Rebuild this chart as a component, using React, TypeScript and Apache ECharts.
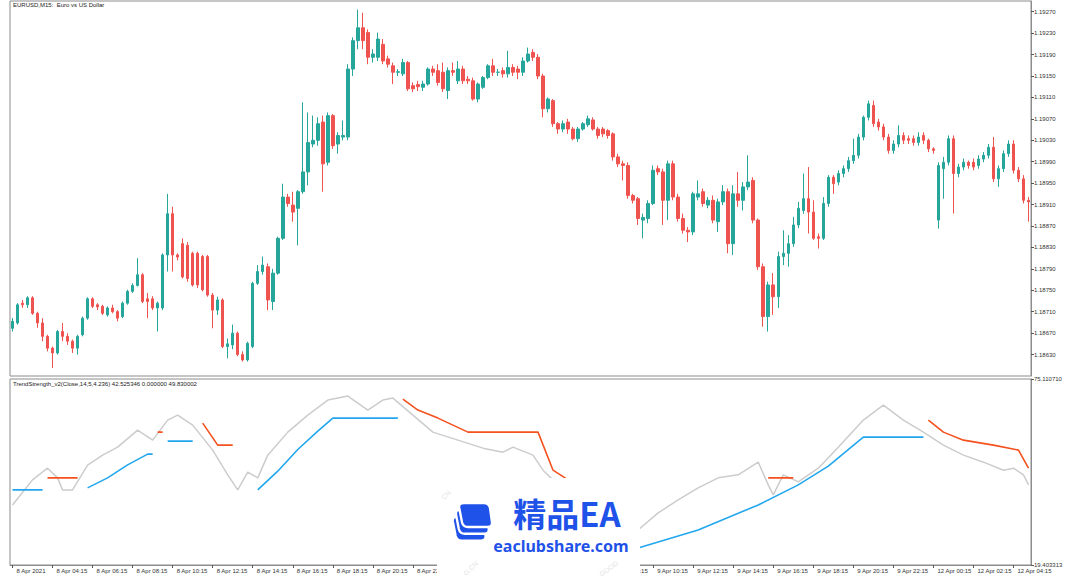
import React, { useEffect, useRef } from "react";
import * as echarts from "echarts";

// [open, close, low, high] per M15 bar
const candles: number[][] = [
  [1.18679, 1.18692, 1.18673, 1.18698],
  [1.18689, 1.18723, 1.18686, 1.18726],
  [1.18726, 1.18723, 1.18717, 1.18732],
  [1.18723, 1.18736, 1.18717, 1.18739],
  [1.18736, 1.18707, 1.18704, 1.18739],
  [1.18707, 1.18689, 1.1868, 1.1871],
  [1.18689, 1.18664, 1.18655, 1.18698],
  [1.18664, 1.18642, 1.18636, 1.18667],
  [1.18642, 1.18633, 1.18605, 1.18645],
  [1.18633, 1.18673, 1.1863, 1.18676],
  [1.18673, 1.18664, 1.18655, 1.18689],
  [1.18664, 1.18655, 1.18648, 1.1867],
  [1.18655, 1.18642, 1.18633, 1.18658],
  [1.18642, 1.18664, 1.1863, 1.18667],
  [1.18667, 1.18698, 1.18664, 1.18701],
  [1.18698, 1.18734, 1.18695, 1.18737],
  [1.18734, 1.1872, 1.18717, 1.18737],
  [1.18723, 1.18719, 1.18713, 1.18726],
  [1.1872, 1.18707, 1.18704, 1.18723],
  [1.18704, 1.18717, 1.18701, 1.1872],
  [1.18717, 1.1871, 1.18707, 1.18723],
  [1.1871, 1.18698, 1.18692, 1.18713],
  [1.18701, 1.18726, 1.18698, 1.18729],
  [1.18726, 1.18748, 1.18723, 1.18751],
  [1.18748, 1.18759, 1.18745, 1.18763],
  [1.18759, 1.18779, 1.18757, 1.1881],
  [1.18779, 1.18729, 1.18726, 1.18782],
  [1.18734, 1.18729, 1.18698, 1.18745],
  [1.18734, 1.18717, 1.18713, 1.18739],
  [1.18717, 1.18726, 1.18673, 1.18729],
  [1.18717, 1.18816, 1.18713, 1.18819],
  [1.18816, 1.18893, 1.18785, 1.1893],
  [1.18893, 1.18816, 1.18785, 1.18906],
  [1.18816, 1.18812, 1.18806, 1.18819],
  [1.18837, 1.18775, 1.18772, 1.18847],
  [1.18834, 1.18772, 1.18766, 1.1884],
  [1.18819, 1.1876, 1.18757, 1.18822],
  [1.18819, 1.1876, 1.18754, 1.18822],
  [1.18813, 1.18751, 1.18748, 1.18816],
  [1.18813, 1.18741, 1.18738, 1.18816],
  [1.18741, 1.18713, 1.18679, 1.18745],
  [1.18713, 1.18732, 1.18704, 1.18738],
  [1.18732, 1.18645, 1.18642, 1.18735],
  [1.18645, 1.1865, 1.18623, 1.1866],
  [1.18648, 1.1867, 1.1864, 1.18686],
  [1.1867, 1.1863, 1.18627, 1.18673],
  [1.1863, 1.1862, 1.18617, 1.18636],
  [1.1862, 1.18651, 1.18617, 1.18654],
  [1.18645, 1.18763, 1.18642, 1.18766],
  [1.18763, 1.18785, 1.1876, 1.18797],
  [1.18785, 1.18797, 1.18779, 1.18813],
  [1.18794, 1.18732, 1.18713, 1.188],
  [1.18729, 1.18782, 1.18713, 1.1879],
  [1.18782, 1.18847, 1.18779, 1.1885],
  [1.18847, 1.18924, 1.18844, 1.18949],
  [1.18924, 1.18912, 1.18906, 1.1893],
  [1.18909, 1.18896, 1.18878, 1.18934],
  [1.18903, 1.18934, 1.18834, 1.18937],
  [1.18934, 1.18971, 1.1893, 1.19101],
  [1.18971, 1.19026, 1.18946, 1.19082],
  [1.19023, 1.1903, 1.19017, 1.19076],
  [1.1903, 1.19061, 1.1902, 1.19073],
  [1.19064, 1.18986, 1.18934, 1.19076],
  [1.18989, 1.19076, 1.18983, 1.19082],
  [1.19076, 1.1902, 1.19014, 1.19079],
  [1.19023, 1.19039, 1.19005, 1.19045],
  [1.19036, 1.19039, 1.1903, 1.19067],
  [1.19036, 1.19163, 1.1903, 1.19172],
  [1.19163, 1.19216, 1.1915, 1.19222],
  [1.19216, 1.1924, 1.192, 1.19274],
  [1.1924, 1.19216, 1.192, 1.19268],
  [1.19231, 1.19185, 1.19172, 1.19237],
  [1.19185, 1.19191, 1.19175, 1.192],
  [1.19185, 1.19219, 1.19178, 1.19231],
  [1.19209, 1.19178, 1.19172, 1.19219],
  [1.19182, 1.19172, 1.19166, 1.19188],
  [1.19169, 1.19157, 1.19135, 1.19175],
  [1.19157, 1.19158, 1.1915, 1.19163],
  [1.19154, 1.19175, 1.1915, 1.19182],
  [1.19175, 1.19126, 1.19122, 1.19178],
  [1.19132, 1.19126, 1.1912, 1.19138],
  [1.19134, 1.1913, 1.19122, 1.19141],
  [1.19129, 1.19135, 1.19122, 1.19141],
  [1.19135, 1.19163, 1.19132, 1.19166],
  [1.19163, 1.19157, 1.1915, 1.19169],
  [1.1916, 1.19138, 1.19132, 1.19172],
  [1.19157, 1.19126, 1.1912, 1.19175],
  [1.19123, 1.1916, 1.19107, 1.19166],
  [1.1916, 1.19157, 1.1915, 1.19175],
  [1.19141, 1.19163, 1.19135, 1.19178],
  [1.19163, 1.19141, 1.19135, 1.19169],
  [1.19144, 1.19141, 1.19135, 1.1915],
  [1.19141, 1.19107, 1.19104, 1.19147],
  [1.19107, 1.19135, 1.19101, 1.19138],
  [1.19129, 1.19147, 1.19126, 1.1915],
  [1.19147, 1.19169, 1.19144, 1.19172],
  [1.19169, 1.19157, 1.1915, 1.19182],
  [1.19157, 1.19157, 1.1915, 1.19163],
  [1.1916, 1.19154, 1.19147, 1.19166],
  [1.19154, 1.19166, 1.19147, 1.19197],
  [1.19166, 1.19157, 1.1915, 1.19172],
  [1.19163, 1.19157, 1.19144, 1.19169],
  [1.19157, 1.19178, 1.1915, 1.19185],
  [1.19178, 1.19191, 1.19175, 1.19203],
  [1.19194, 1.19185, 1.19178, 1.192],
  [1.19185, 1.1915, 1.19144, 1.19191],
  [1.1915, 1.19089, 1.19073, 1.19154],
  [1.19089, 1.19107, 1.19082, 1.1911],
  [1.19104, 1.19061, 1.19055, 1.19107],
  [1.19061, 1.19051, 1.19042, 1.19064],
  [1.19051, 1.19061, 1.19045, 1.19067],
  [1.19064, 1.19051, 1.19042, 1.1907],
  [1.19051, 1.19033, 1.1903, 1.19055],
  [1.19033, 1.19051, 1.19027, 1.19055],
  [1.19051, 1.19061, 1.19048, 1.19064],
  [1.19059, 1.1907, 1.19055, 1.19076],
  [1.19068, 1.19051, 1.19048, 1.19073],
  [1.19051, 1.19039, 1.19033, 1.19055],
  [1.19051, 1.19042, 1.19036, 1.19055],
  [1.19048, 1.19039, 1.19033, 1.19051],
  [1.19042, 1.18999, 1.18992, 1.19045],
  [1.18999, 1.18986, 1.1898, 1.19005],
  [1.18986, 1.18983, 1.18955, 1.18992],
  [1.18983, 1.18927, 1.18921, 1.18989],
  [1.18927, 1.18918, 1.18912, 1.1893],
  [1.18921, 1.18884, 1.18872, 1.18924],
  [1.18881, 1.18886, 1.18847, 1.18893],
  [1.18884, 1.18912, 1.18875, 1.18918],
  [1.18912, 1.18974, 1.18909, 1.18983],
  [1.18977, 1.18971, 1.18965, 1.18983],
  [1.18971, 1.18918, 1.18872, 1.18977],
  [1.18918, 1.18986, 1.18881, 1.18992],
  [1.18986, 1.18924, 1.18918, 1.18992],
  [1.18924, 1.18884, 1.18878, 1.1893],
  [1.18884, 1.18862, 1.18856, 1.18893],
  [1.18862, 1.18859, 1.1884, 1.18868],
  [1.18859, 1.1893, 1.18853, 1.18934],
  [1.18924, 1.1893, 1.18918, 1.18955],
  [1.18934, 1.18912, 1.18906, 1.1894],
  [1.18909, 1.18918, 1.18903, 1.18924],
  [1.18918, 1.18881, 1.18875, 1.18927],
  [1.18878, 1.18915, 1.18859, 1.18921],
  [1.18915, 1.18934, 1.18909, 1.18946],
  [1.18934, 1.18837, 1.18819, 1.1894],
  [1.18837, 1.1893, 1.18816, 1.18946],
  [1.1893, 1.18918, 1.18906, 1.18971],
  [1.18918, 1.18943, 1.18899, 1.18952],
  [1.18943, 1.18952, 1.18937, 1.19002],
  [1.18955, 1.18881, 1.18875, 1.18961],
  [1.18881, 1.18794, 1.18788, 1.18884],
  [1.18794, 1.18701, 1.18682, 1.188],
  [1.18701, 1.1876, 1.18673, 1.18766],
  [1.1876, 1.18738, 1.18704, 1.18782],
  [1.18738, 1.18813, 1.18717, 1.18822],
  [1.18813, 1.18819, 1.18797, 1.18862],
  [1.18819, 1.18837, 1.18794, 1.18853],
  [1.18837, 1.18872, 1.18831, 1.18887],
  [1.18872, 1.18903, 1.18866, 1.18915],
  [1.18899, 1.18921, 1.18893, 1.18968],
  [1.18921, 1.18896, 1.18856, 1.1898],
  [1.18896, 1.18847, 1.18844, 1.18918],
  [1.1885, 1.18847, 1.18828, 1.18856],
  [1.18847, 1.18912, 1.18844, 1.18924],
  [1.18912, 1.18961, 1.18906, 1.18965],
  [1.18961, 1.18949, 1.1893, 1.18965],
  [1.18952, 1.18968, 1.18946, 1.18974],
  [1.18968, 1.18977, 1.18961, 1.18983],
  [1.18977, 1.18992, 1.18971, 1.18999],
  [1.18992, 1.19002, 1.18986, 1.19033],
  [1.19002, 1.19036, 1.18996, 1.19042],
  [1.19036, 1.19073, 1.1903, 1.19076],
  [1.19073, 1.19098, 1.19067, 1.19104],
  [1.19095, 1.19061, 1.19055, 1.19104],
  [1.19064, 1.19055, 1.19048, 1.1907],
  [1.19055, 1.19036, 1.1903, 1.19061],
  [1.19036, 1.19011, 1.19005, 1.19042],
  [1.19011, 1.19023, 1.19005, 1.1903],
  [1.19023, 1.19039, 1.19017, 1.19058],
  [1.19039, 1.1903, 1.19023, 1.19045],
  [1.19033, 1.1903, 1.19023, 1.19039],
  [1.19033, 1.19026, 1.1902, 1.19039],
  [1.19026, 1.19036, 1.1902, 1.19045],
  [1.19039, 1.1903, 1.19023, 1.19045],
  [1.1903, 1.19014, 1.19008, 1.19033],
  [1.19014, 1.19011, 1.19005, 1.19017],
  [1.18881, 1.18983, 1.18865, 1.18989],
  [1.18977, 1.18989, 1.18921, 1.18999],
  [1.18989, 1.19033, 1.18983, 1.19039],
  [1.19033, 1.18968, 1.18893, 1.19039],
  [1.18968, 1.1898, 1.18961, 1.18986],
  [1.1898, 1.18989, 1.18974, 1.18996],
  [1.18989, 1.18983, 1.18977, 1.18992],
  [1.18989, 1.1898, 1.18974, 1.18996],
  [1.18983, 1.18995, 1.18977, 1.19002],
  [1.18995, 1.19002, 1.18989, 1.19008],
  [1.19002, 1.19017, 1.18996, 1.19023],
  [1.19017, 1.18958, 1.18952, 1.19036],
  [1.18958, 1.18977, 1.18943, 1.18983],
  [1.18977, 1.19005, 1.18971, 1.19011],
  [1.19005, 1.19023, 1.18999, 1.1903],
  [1.19023, 1.18974, 1.18968, 1.1903],
  [1.18974, 1.18958, 1.18952, 1.1898],
  [1.18958, 1.18918, 1.18912, 1.18965],
  [1.18918, 1.18915, 1.18878, 1.18924],
];

const priceTicks = [
  1.1863, 1.1867, 1.1871, 1.1875, 1.1879, 1.1883, 1.1887, 1.1891, 1.1895,
  1.1899, 1.1903, 1.1907, 1.1911, 1.1915, 1.1919, 1.1923, 1.1927,
];
const priceRange = [1.1859, 1.1929];

const timeLabels = [
  "8 Apr 2021", "8 Apr 04:15", "8 Apr 06:15", "8 Apr 08:15", "8 Apr 10:15",
  "8 Apr 12:15", "8 Apr 14:15", "8 Apr 16:15", "8 Apr 18:15", "8 Apr 20:15",
  "8 Apr 22:15", "9 Apr 00:15", "9 Apr 02:15", "9 Apr 04:15", "9 Apr 06:15",
  "9 Apr 08:15", "9 Apr 10:15", "9 Apr 12:15", "9 Apr 14:15", "9 Apr 16:15",
  "9 Apr 18:15", "9 Apr 20:15", "9 Apr 22:15", "12 Apr 00:15", "12 Apr 02:15",
  "12 Apr 04:15",
];
const barsPerLabel = 8;

const indicatorRange = [19.403313, 75.11071];

// TrendStrength: grey line, [bar, value]
const greyLine = [
  [0, 37.4], [4, 44.9], [7, 48.4], [9, 45.5], [10, 41.9], [12, 41.9], [15, 49.3],
  [18, 52.3], [21, 54.7], [25, 59.8], [28, 56.8], [31, 62.8], [33, 64.3], [36, 61.3],
  [40, 53.8], [43, 46.4], [45, 41.9], [47, 47.2], [49, 45.5], [51, 52.3], [55, 59.2],
  [59, 64.3], [63, 68.8], [67, 70.0], [71, 65.8], [74, 68.8], [76, 69.4], [80, 64.3],
  [84, 59.2], [89, 56.8], [94, 54.4], [98, 53.2], [100, 54.7], [104, 52.3], [106, 47.8],
  [108, 44.9], [112, 38.9], [118, 26.9], [122, 25.4], [125, 29.9], [129, 35.0],
  [133, 38.9], [137, 42.5], [141, 45.5], [145, 46.4], [149, 50.2], [151, 43.4],
  [152, 40.4], [154, 46.4], [157, 44.3], [161, 48.4], [165, 54.7], [170, 62.8],
  [174, 67.3], [178, 62.8], [182, 59.2], [186, 55.3], [190, 52.3], [194, 50.2],
  [198, 47.8], [200, 48.4], [202, 46.4], [203, 43.4],
];

// coloured signal line, up (blue) and down (orange) segments
const upSegments = [
  [[0, 41.9], [6, 41.9]],
  [[15, 42.5], [19, 45.5], [23, 49.4], [27, 52.6], [28, 52.6]],
  [[31, 56.5], [36, 56.5]],
  [[49, 41.9], [53, 47.5], [57, 54.0], [61, 59.5], [64, 63.4], [77, 63.4]],
  [[125, 24.5], [137, 29.9], [149, 37.4], [157, 43.4], [163, 49.0], [170, 57.7], [182, 57.7]],
];
const downSegments = [
  [[7, 45.5], [13, 45.5]],
  [[29, 59.2], [30, 59.2]],
  [[38, 61.9], [41, 55.3], [44, 55.3]],
  [[78, 69.1], [81, 65.8], [85, 63.4], [91, 59.2], [105, 59.2], [108, 47.8], [111, 44.9]],
  [[151, 45.5], [156, 45.5]],
  [[183, 62.8], [186, 59.2], [190, 56.8], [196, 55.3], [201, 53.8], [203, 48.4]],
];

const LOGO_D =
  "M30 0 L80 0 Q92 0 95 12 L100 48 Q101 60 89 60 L40 60 Q28 60 25 48 L18 12 Q16 0 30 0 Z";

let registered = false;
function ensureShape() {
  if (registered) return;
  echarts.graphic.registerShape("logo", echarts.graphic.extendPath(LOGO_D, {}));
  registered = true;
}

const FONT = "Liberation Sans";
const UP = "#26a69a";
const DOWN = "#ef5350";
const BLUE = "#22a7ee";
const ORANGE = "#f4511e";
const BRAND = "#1f52e8";

export default function App() {
  const ref = useRef<HTMLDivElement>(null);
  useEffect(() => {
    if (!ref.current) return;
    ensureShape();
    const chart = echarts.init(ref.current, undefined, { renderer: "svg" });
    const cats = candles.map((_, i) => String(i));
    const labelAt = (i: number) => i % barsPerLabel === 0;

    const series: any[] = [
      {
        type: "candlestick",
        xAxisIndex: 0,
        yAxisIndex: 0,
        data: candles,
        barWidth: 3,
        itemStyle: {
          color: UP,
          color0: DOWN,
          borderColor: UP,
          borderColor0: DOWN,
          borderWidth: 1,
        },
      },
      {
        type: "line",
        xAxisIndex: 1,
        yAxisIndex: 1,
        data: greyLine,
        showSymbol: false,
        lineStyle: { color: "#cccccc", width: 1.5 },
        z: 2,
      },
    ];
    upSegments.forEach((seg) =>
      series.push({
        type: "line",
        xAxisIndex: 1,
        yAxisIndex: 1,
        data: seg,
        showSymbol: false,
        lineStyle: { color: BLUE, width: 1.6 },
        z: 3,
      })
    );
    downSegments.forEach((seg) =>
      series.push({
        type: "line",
        xAxisIndex: 1,
        yAxisIndex: 1,
        data: seg,
        showSymbol: false,
        lineStyle: { color: ORANGE, width: 1.6 },
        z: 3,
      })
    );

    const sx = 0.4;
    chart.setOption({
      animation: false,
      backgroundColor: "#ffffff",
      textStyle: { fontFamily: FONT },
      grid: [
        { left: 10, top: 1, width: 1021, height: 375, show: true, borderColor: "#8c8c8c", borderWidth: 1 },
        { left: 10, top: 379, width: 1021, height: 186, show: true, borderColor: "#8c8c8c", borderWidth: 1 },
      ],
      xAxis: [
        {
          type: "category",
          gridIndex: 0,
          data: cats,
          boundaryGap: true,
          axisLine: { show: false },
          axisTick: { show: false },
          axisLabel: { show: false },
          splitLine: { show: false },
        },
        {
          type: "category",
          gridIndex: 1,
          data: cats,
          boundaryGap: true,
          axisLine: { show: true, lineStyle: { color: "#8c8c8c" } },
          axisTick: {
            show: true,
            alignWithLabel: true,
            interval: (i: number) => labelAt(i),
            length: 3,
            lineStyle: { color: "#555" },
          },
          axisLabel: {
            show: true,
            interval: (i: number) => labelAt(i),
            formatter: (_v: string, i: number) => timeLabels[i / barsPerLabel] ?? "",
            align: "left",
            padding: [0, 0, 0, 4],
            fontSize: 6,
            color: "#333",
            margin: 3,
            fontFamily: FONT,
          },
          splitLine: { show: false },
        },
      ],
      yAxis: [
        {
          type: "value",
          gridIndex: 0,
          position: "right",
          min: priceRange[0],
          max: priceRange[1],
          axisLine: { show: true, lineStyle: { color: "#8c8c8c" } },
          axisTick: { show: true, customValues: priceTicks, length: 3, lineStyle: { color: "#555" } },
          axisLabel: {
            customValues: priceTicks,
            formatter: (v: number) => v.toFixed(5),
            fontSize: 6,
            color: "#333",
            margin: 3,
            fontFamily: FONT,
          },
          splitLine: { show: false },
        },
        {
          type: "value",
          gridIndex: 1,
          position: "right",
          min: indicatorRange[0],
          max: indicatorRange[1],
          axisLine: { show: true, lineStyle: { color: "#8c8c8c" } },
          axisTick: { show: true, customValues: indicatorRange, length: 3, lineStyle: { color: "#555" } },
          axisLabel: {
            customValues: indicatorRange,
            formatter: (v: number) => v.toFixed(6),
            fontSize: 6,
            color: "#333",
            margin: 3,
            fontFamily: FONT,
          },
          splitLine: { show: false },
        },
      ],
      series,
      graphic: [
        {
          type: "text",
          x: 13,
          y: 2,
          z: 100,
          style: { text: "EURUSD,M15:  Euro vs US Dollar", fontSize: 6, fill: "#222", fontFamily: FONT },
        },
        {
          type: "text",
          x: 13,
          y: 381,
          z: 100,
          style: {
            text: "TrendStrength_v2(Close,14,5,4.236) 42.525346 0.000000 49.830002",
            fontSize: 6,
            fill: "#222",
            fontFamily: FONT,
          },
        },
        {
          type: "rect",
          z: 100,
          shape: { x: 437, y: 478, width: 203, height: 107, r: 4 },
          style: { fill: "#ffffff" },
        },
        {
          type: "text",
          z: 101,
          x: 440,
          y: 496,
          rotation: Math.PI / 4,
          style: { text: "CN", fontSize: 7, fill: "#e4e4e4", fontFamily: FONT },
        },
        {
          type: "text",
          z: 101,
          x: 462,
          y: 572,
          rotation: Math.PI / 4,
          style: { text: "G.CN", fontSize: 7, fill: "#e4e4e4", fontFamily: FONT },
        },
        {
          type: "text",
          z: 101,
          x: 598,
          y: 572,
          rotation: Math.PI / 5,
          style: { text: "GOOD", fontSize: 7, fill: "#e4e4e4", fontFamily: FONT },
        },
        {
          type: "group",
          z: 101,
          x: 452,
          y: 503,
          children: [
            { type: "logo", z: 101, x: -16 * sx, y: 34 * sx, scaleX: sx, scaleY: sx, style: { fill: BRAND, stroke: "#fff", lineWidth: 6 } },
            { type: "logo", z: 102, x: -8 * sx, y: 17 * sx, scaleX: sx, scaleY: sx, style: { fill: BRAND, stroke: "#fff", lineWidth: 6 } },
            { type: "logo", z: 103, x: 0, y: 0, scaleX: sx, scaleY: sx, style: { fill: BRAND, stroke: "#fff", lineWidth: 6 } },
          ],
        },
        {
          type: "text",
          z: 101,
          x: 567,
          y: 513,
          style: {
            text: "精品EA",
            fontSize: 33,
            fontWeight: "bold",
            fill: BRAND,
            fontFamily: "Noto Sans CJK SC",
            align: "center",
            verticalAlign: "middle",
          },
        },
        {
          type: "text",
          z: 101,
          x: 561,
          y: 546,
          style: {
            text: "eaclubshare.com",
            fontSize: 16,
            fontWeight: "bold",
            fill: BRAND,
            fontFamily: "Noto Sans",
            align: "center",
            verticalAlign: "middle",
          },
        },
      ],
    });
    return () => chart.dispose();
  }, []);
  return (
    <div
      ref={ref}
      style={{ position: "fixed", left: 0, top: 0, width: 1080, height: 585, background: "#fff" }}
    />
  );
}
